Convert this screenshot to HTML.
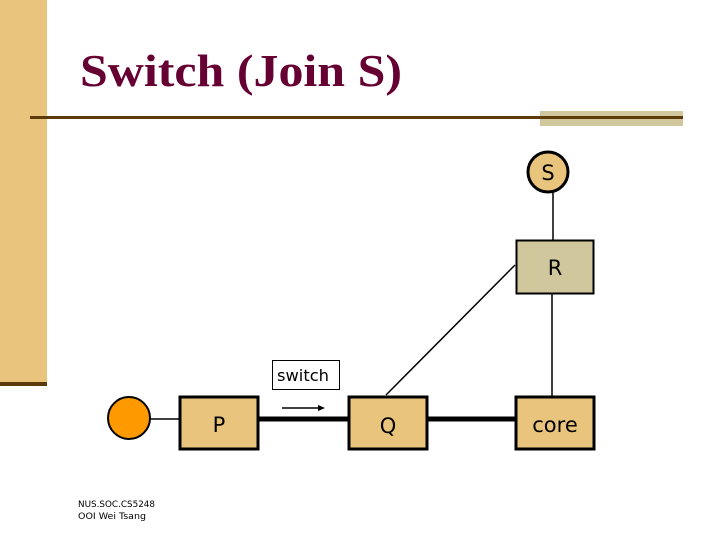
<!DOCTYPE html>
<html><head><meta charset="utf-8"><style>body{margin:0;background:#fff}svg{display:block}</style></head><body>
<svg width="720" height="540" viewBox="0 0 720 540" xmlns="http://www.w3.org/2000/svg">
<rect x="0" y="0" width="47" height="382" fill="#E8C47C"/>
<rect x="0" y="382" width="47" height="4" fill="#5C3A0A"/>
<rect x="540" y="111" width="143" height="15" fill="#D0C89C"/>
<rect x="30" y="116" width="653" height="3" fill="#5C3A0A"/>
<text x="80" y="86" font-family="Liberation Serif, serif" font-weight="bold" font-size="46" fill="#660033" textLength="322" lengthAdjust="spacingAndGlyphs">Switch (Join S)</text>
<g stroke="#000" stroke-width="1.5" fill="none">
<line x1="553" y1="192" x2="553" y2="240"/>
<line x1="552" y1="294" x2="552" y2="396"/>
<line x1="515" y1="265" x2="386" y2="395"/>
<line x1="150" y1="419" x2="179" y2="419"/>
<line x1="282" y1="408" x2="320" y2="408"/>
</g>
<polygon points="325,408 318,405 318,411" fill="#000"/>
<g stroke="#000" stroke-width="5">
<line x1="258" y1="419" x2="348" y2="419"/>
<line x1="427" y1="419" x2="515" y2="419"/>
</g>
<g stroke="#000" stroke-width="3" fill="#E8C47C">
<rect x="180" y="397" width="78" height="52"/>
<rect x="349" y="397" width="78" height="52"/>
<rect x="516" y="397" width="78" height="52"/>
<circle cx="548" cy="172" r="20"/>
</g>
<rect x="516.5" y="240.5" width="77" height="53" fill="#D0C89C" stroke="#000" stroke-width="2"/>
<circle cx="129" cy="418" r="21" fill="#FF9900" stroke="#000" stroke-width="2"/>
<rect x="272.5" y="360.5" width="67" height="29" fill="#fff" stroke="#000" stroke-width="1"/>
<g font-family="DejaVu Sans, sans-serif" fill="#000" text-anchor="middle">
<text x="548" y="180" font-size="21">S</text>
<text x="555" y="275" font-size="21">R</text>
<text x="219" y="432" font-size="21">P</text>
<text x="388" y="433" font-size="21">Q</text>
<text x="555" y="432" font-size="21">core</text>
<text x="303" y="381" font-size="16" textLength="52" lengthAdjust="spacingAndGlyphs">switch</text>
</g>
<g font-family="DejaVu Sans, sans-serif" font-size="9" fill="#000">
<text x="78" y="507" textLength="77" lengthAdjust="spacingAndGlyphs">NUS.SOC.CS5248</text>
<text x="78" y="519" textLength="68" lengthAdjust="spacingAndGlyphs">OOI Wei Tsang</text>
</g>
</svg>
</body></html>
